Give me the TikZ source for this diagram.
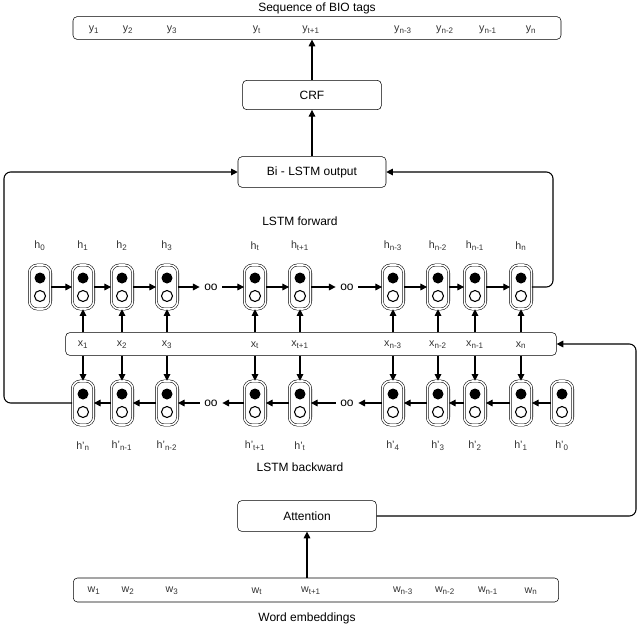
\documentclass[tikz,border=0pt]{standalone}
\usepackage{fontspec}
\setmainfont{Liberation Sans}
\usetikzlibrary{arrows.meta, positioning}

\tikzset{
  box/.style={draw=black, rounded corners=3pt, font=\small},
  cell/.style={draw=black, double, double distance=1.2pt, rounded corners=6pt, minimum width=16pt, minimum height=33pt, inner sep=0pt},
  lbl/.style={font=\footnotesize, text=black!80},
  arr/.style={-{Triangle[length=5pt,width=5pt]}, thick},
}
\newcommand{\sbs}[2]{#1\textsubscript{#2}}
\newcommand{\lstmcell}[3]{%
  \node[cell] (#1) at (#2,#3) {};
  \fill[black] (#2,#3-9) circle (5.5);
  \draw[black, thick] (#2,#3+9) circle (5.5);
}

\begin{document}
\begin{tikzpicture}[x=0.75pt, y=-0.75pt]
\useasboundingbox (0,0) rectangle (640,626);

% BOXES
\node[box, minimum width=366pt, minimum height=17pt] (bio) at (317,28) {};
\node[font=\small] (biot) at (317,8) {Sequence of BIO tags};
\node[box, minimum width=104pt, minimum height=22pt] (crf) at (312,95) {CRF};
\node[box, minimum width=111pt, minimum height=23pt] (bilstm) at (312,172) {Bi - LSTM output};
\node[box, minimum width=368pt, minimum height=17pt] (xbar) at (311,344) {};
\node[box, minimum width=104pt, minimum height=23pt] (att) at (307,516) {Attention};
\node[box, minimum width=364pt, minimum height=18pt] (wemb) at (316,590) {};
\node[font=\small] (wembt) at (307,618) {Word embeddings};
\node[font=\small] (fwd) at (300,221) {LSTM forward};
\node[font=\small] (bwd) at (300,467) {LSTM backward};

% LABELS IN BARS
\foreach \x/\s in {94/1, 128/2, 172/3, 257/t, 311/t+1, 403/n-3, 445/n-2, 488/n-1, 531/n} {
  \node[lbl] at (\x,30) {\sbs{y}{\s}};
  \node[lbl] at (\x,591) {\sbs{w}{\s}};
}
\foreach \x/\s in {83/1, 122/2, 167/3, 255/t, 300/t+1, 393/n-3, 438/n-2, 475/n-1, 521/n}
  \node[lbl] at (\x,345) {\sbs{x}{\s}};

% FORWARD CELLS
\foreach \n/\x/\s in {f0/40/0, f1/83/1, f2/122/2, f3/167/3, ft/255/t, fu/300/t+1, fa/393/n-3, fb/438/n-2, fc/475/n-1, fn/521/n} {
  \lstmcell{\n}{\x}{287}
  \node[lbl] at (\x,246) {\sbs{h}{\s}};
}
% BACKWARD CELLS
\foreach \n/\x/\s in {bn/83/n, bm/122/n-1, bl/167/n-2, bu/255/t+1, bt/300/t, b4/393/4, b3/438/3, b2/475/2, b1/521/1, b0/562/0} {
  \lstmcell{\n}{\x}{403}
  \node[lbl] at (\x,446) {\sbs{h'}{\s}};
}
\node[font=\small] (fdots1) at (211,287) {oo};
\node[font=\small] (fdots2) at (347,287) {oo};
\node[font=\small] (bdots1) at (211,403) {oo};
\node[font=\small] (bdots2) at (347,403) {oo};

% STRAIGHT ARROWS
\foreach \a/\b in {f0/f1, f1/f2, f2/f3, f3/fdots1, fdots1/ft, ft/fu, fu/fdots2, fdots2/fa, fa/fb, fb/fc, fc/fn}
  \draw[arr] (\a) -- (\b);
\foreach \a/\b in {b0/b1, b1/b2, b2/b3, b3/b4, b4/bdots2, bdots2/bt, bt/bu, bu/bdots1, bdots1/bl, bl/bm, bm/bn}
  \draw[arr] (\a) -- (\b);
\foreach \a/\b in {f1/bn, f2/bm, f3/bl, ft/bu, fu/bt, fa/b4, fb/b3, fc/b2, fn/b1} {
  \draw[arr] (\a |- xbar.north) -- (\a);
  \draw[arr] (\b |- xbar.south) -- (\b);
}
\draw[arr] (bilstm) -- (crf);
\draw[arr] (crf) -- (crf |- bio.south);
\draw[arr] (wemb.north -| att) -- (att);

% LOOPS
\draw[arr, rounded corners=5pt] (fn.east) -- (553,287) -- (553,172) -- (bilstm.east);
\draw[arr, rounded corners=5pt] (bn.west) -- (4,403) -- (4,172) -- (bilstm.west);
\draw[arr, rounded corners=5pt] (att.east) -- (636,516) -- (636,344) -- (xbar.east);
\end{tikzpicture}
\end{document}
